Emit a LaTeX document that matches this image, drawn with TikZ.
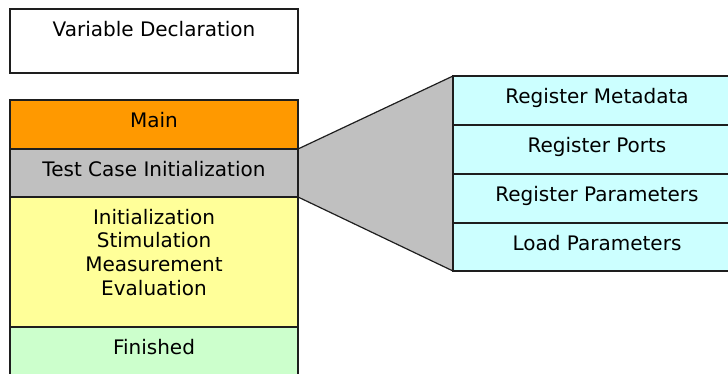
\documentclass[tikz,border=0pt]{standalone}
\usepackage{fontspec}
\setmainfont{DejaVu Sans}
\usetikzlibrary{
  positioning,
  backgrounds
}
\definecolor{maincolor}{RGB}{255, 153, 0}
\definecolor{initcolor}{RGB}{192, 192, 192}
\definecolor{loopcolor}{RGB}{255, 255, 153}
\definecolor{finishcolor}{RGB}{204, 255, 204}
\definecolor{registercolor}{RGB}{204, 255, 255}
\definecolor{linecolor}{RGB}{30, 30, 30}
\tikzset{
stateblock/.style={
  draw=linecolor,
  line width=0.6pt,
  outer sep=0pt,
  minimum width=144pt,
  inner xsep=0pt,
  inner ysep=3.6pt,
  text height=10pt,
  text depth=7.3pt,
  align=center,
  font=\fontsize{10}{11.85}\selectfont
},
regblock/.style={
  stateblock,
  fill=registercolor
},
zoomline/.style={
  draw=linecolor,
  line width=0.6pt
}
}

\begin{document}
\begin{tikzpicture}
  \useasboundingbox (0pt,0pt) rectangle (364pt,-187pt);

  % left column
  \node[stateblock, anchor=north west, text depth=14.8pt] (vardecl) at (5pt,-4.5pt) {Variable Declaration};
  \node[stateblock, anchor=north west, fill=maincolor] (main) at (5pt,-50pt) {Main};
  \node[stateblock, below=0pt of main, fill=initcolor, text depth=6.8pt] (tcinit) {Test Case Initialization};
  \node[stateblock, below=0pt of tcinit, fill=loopcolor, text width=144pt, text depth=47.8pt] (loop) {Initialization\\Stimulation\\Measurement\\Evaluation};
  \node[stateblock, below=0pt of loop, fill=finishcolor, text depth=6.8pt] (finished) {Finished};

  % right column (runs past the right edge)
  \node[regblock, anchor=north west] (regmeta) at (226.5pt,-38pt) {Register Metadata};
  \node[regblock, below=0pt of regmeta] (regports) {Register Ports};
  \node[regblock, below=0pt of regports] (regparams) {Register Parameters};
  \node[regblock, below=0pt of regparams, text depth=6.8pt] (loadparams) {Load Parameters};

  % zoom wedge
  \begin{scope}[on background layer]
    \fill[initcolor] (tcinit.north east) -- (regmeta.north west) -- (loadparams.south west) -- (tcinit.south east) -- cycle;
  \end{scope}
  \draw[zoomline] (tcinit.north east) -- (regmeta.north west);
  \draw[zoomline] (tcinit.south east) -- (loadparams.south west);
\end{tikzpicture}
\end{document}
